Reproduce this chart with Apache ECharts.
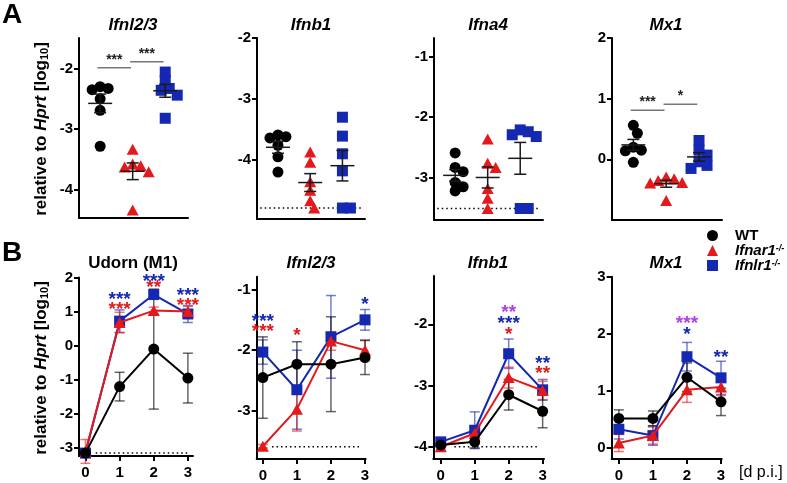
<!DOCTYPE html>
<html>
<head>
<meta charset="utf-8">
<script src="https://cdn.jsdelivr.net/npm/echarts@6/dist/echarts.min.js"></script>
<style>
  html, body { margin: 0; padding: 0; background: #fff; }
  #chart { width: 787px; height: 483px; }
</style>
</head>
<body>
<div id="chart"></div>
<script>
// ---------- colours / fonts ----------
var RED = '#e3191c', BLUE = '#1528b2', PURPLE = '#b23ee6', BLACK = '#000';
var FONT = 'Liberation Sans';

// ---------- panel A: single mice, log10 relative to Hprt ----------
var genotypes = ['WT', 'Ifnar1', 'Ifnlr1'];
var titlesA = ['Ifnl2/3', 'Ifnb1', 'Ifna4', 'Mx1'];

var ifnl23WT = [-2.3, -2.33, -2.35, -2.5, -2.69, -3.28];
var ifnl23Ifnar = [-3.33, -3.57, -3.6, -3.62, -3.7, -4.33];
var ifnl23Ifnlr = [-2.06, -2.2, -2.33, -2.36, -2.44, -2.82];
var ifnb1WT = [-3.59, -3.62, -3.64, -3.76, -3.95, -4.2];
var ifnb1Ifnar = [-3.87, -4.04, -4.36, -4.5, -4.67, -4.79];
var ifnb1Ifnlr = [-3.3, -3.61, -3.9, -4.18, -4.79, -4.79];
var ifna4WT = [-2.59, -2.83, -2.9, -3.08, -3.15, -3.22];
var ifna4Ifnar = [-2.36, -2.76, -2.83, -3.18, -3.34, -3.51];
var ifna4Ifnlr = [-2.21, -2.24, -2.29, -2.32, -3.51, -3.51];
var mx1WT = [0.56, 0.43, 0.2, 0.15, 0.14, -0.05];
var mx1Ifnar = [-0.29, -0.32, -0.35, -0.38, -0.39, -0.68];
var mx1Ifnlr = [0.31, 0.15, 0.07, -0.04, -0.1, -0.15];

var lodA = [null, -4.79, -3.51, null];           // detection limit
var yTicksA = [[-4, -3, -2], [-4, -3, -2], [-3, -2, -1], [0, 1, 2]];

// significance brackets: panel, group from, group to, level, stars
var sigA = [
  [0, 1, 2, -1.99, '***'],
  [0, 2, 3, -1.89, '***'],
  [3, 1, 2, 0.81, '***'],
  [3, 2, 3, 0.91, '*']
];

// ---------- panel B: time course, mean and SEM ----------
var days = [0, 1, 2, 3];
var titlesB = ['Udorn (M1)', 'Ifnl2/3', 'Ifnb1', 'Mx1'];

var udornWT = [-3.15, -1.2, -0.1, -0.95];
var udornWTErr = [0.05, 0.42, 1.76, 0.73];
var udornIfnar = [-3.1, 0.68, 1.03, 1.0];
var udornIfnarErr = [0.35, 0.3, 0.1, 0.15];
var udornIfnlr = [-3.15, 0.72, 1.5, 0.93];
var udornIfnlrErr = [0.05, 0.33, 0.12, 0.25];

var ifnl23BWT = [-2.45, -2.23, -2.23, -2.12];
var ifnl23BWTErr = [0.67, 0.37, 0.78, 0.28];
var ifnl23BIfnar = [-3.58, -2.97, -1.85, -2.0];
var ifnl23BIfnarErr = [0.03, 0.36, 0.15, 0.17];
var ifnl23BIfnlr = [-2.03, -2.65, -1.78, -1.5];
var ifnl23BIfnlrErr = [0.2, 0.65, 0.68, 0.17];

var ifnb1BWT = [-3.97, -3.92, -3.15, -3.42];
var ifnb1BWTErr = [0.05, 0.1, 0.25, 0.27];
var ifnb1BIfnar = [-4.0, -3.78, -2.87, -3.08];
var ifnb1BIfnarErr = [0.05, 0.12, 0.17, 0.15];
var ifnb1BIfnlr = [-3.92, -3.73, -2.48, -3.07];
var ifnb1BIfnlrErr = [0.05, 0.3, 0.24, 0.17];

var mx1BWT = [0.52, 0.52, 1.24, 0.81];
var mx1BWTErr = [0.15, 0.13, 0.25, 0.24];
var mx1BIfnar = [0.09, 0.22, 1.02, 1.07];
var mx1BIfnarErr = [0.15, 0.15, 0.22, 0.15];
var mx1BIfnlr = [0.33, 0.22, 1.6, 1.23];
var mx1BIfnlrErr = [0.17, 0.17, 0.25, 0.29];

var lodB = [-3.15, -3.59, -4.0, null];
var yTicksB = [[-3, -2, -1, 0, 1, 2], [-3, -2, -1], [-4, -3, -2], [0, 1, 2, 3]];

// stars: panel, day, level, stars, colour
var sigB = [
  [0, 1, 1.46, '***', BLUE], [0, 1, 1.16, '***', RED],
  [0, 2, 1.99, '***', BLUE], [0, 2, 1.81, '**', RED],
  [0, 3, 1.57, '***', BLUE], [0, 3, 1.29, '***', RED],
  [1, 0, -1.47, '***', BLUE], [1, 0, -1.63, '***', RED],
  [1, 1, -1.69, '*', RED], [1, 3, -1.18, '*', BLUE],
  [2, 2, -1.75, '**', PURPLE], [2, 2, -1.93, '***', BLUE], [2, 2, -2.11, '*', RED],
  [2, 3, -2.58, '**', BLUE], [2, 3, -2.74, '**', RED],
  [3, 2, 2.24, '***', PURPLE], [3, 2, 2.05, '*', BLUE],
  [3, 3, 1.65, '**', BLUE]
];

// ---------- layout ----------
var gridsA = [[79, 38, 109, 180], [257, 38, 108, 181], [434, 38, 109, 182], [612, 38, 110, 182]];
var yRangeA = [[-4.46, -1.5], [-4.97, -2], [-3.7, -0.69], [-1, 2]];
var gridsB = [[79, 277.5, 114, 178.5], [256.7, 276.7, 109, 182.3], [433.3, 276, 110.7, 183], [611.7, 276.7, 110, 182.3]];
var yRangeB = [[-3.235, 2], [-3.79, -0.79], [-4.2, -1.21], [-0.19, 3]];
var xRangeB = [[-0.19, 3.15], [-0.18, 3.02], [-0.22, 3.04], [-0.21, 3.02]];
var lodSpanB = [[0.3, 3.0], [0.27, 2.9], [0.4, 2.9]];

var dotsA = [
  [ifnl23WT, ifnl23Ifnar, ifnl23Ifnlr],
  [ifnb1WT, ifnb1Ifnar, ifnb1Ifnlr],
  [ifna4WT, ifna4Ifnar, ifna4Ifnlr],
  [mx1WT, mx1Ifnar, mx1Ifnlr]
];
var meansB = [
  [udornWT, udornIfnar, udornIfnlr],
  [ifnl23BWT, ifnl23BIfnar, ifnl23BIfnlr],
  [ifnb1BWT, ifnb1BIfnar, ifnb1BIfnlr],
  [mx1BWT, mx1BIfnar, mx1BIfnlr]
];
var errsB = [
  [udornWTErr, udornIfnarErr, udornIfnlrErr],
  [ifnl23BWTErr, ifnl23BIfnarErr, ifnl23BIfnlrErr],
  [ifnb1BWTErr, ifnb1BIfnarErr, ifnb1BIfnlrErr],
  [mx1BWTErr, mx1BIfnarErr, mx1BIfnlrErr]
];

var symbols = ['circle', 'triangle', 'rect'];
var symSizes = [11, [12, 11], 11];
var colors = [BLACK, RED, BLUE];
var errColors = ['rgba(0,0,0,0.6)', 'rgba(227,25,28,0.6)', 'rgba(21,40,178,0.6)'];

function stats(arr) {
  var n = arr.length, m = 0, s = 0;
  arr.forEach(function (v) { m += v; });
  m /= n;
  arr.forEach(function (v) { s += (v - m) * (v - m); });
  return [m, Math.sqrt(s / (n - 1)) / Math.sqrt(n)];
}

// simple beeswarm: spread overlapping dots sideways (pixels -> x units)
function swarm(values, center, pxY, pxX) {
  var placed = [];
  return values.map(function (v) {
    var steps = [0, 1, -1, 2, -2, 3, -3, 4, -4];
    for (var i = 0; i < steps.length; i++) {
      var dx = steps[i] * 4;
      var ok = placed.every(function (p) {
        return Math.hypot(p[0] - dx, (p[1] - v) * pxY) >= 8;
      });
      if (ok) { placed.push([dx, v]); return [center + dx / pxX, v]; }
    }
    placed.push([0, v]);
    return [center, v];
  });
}

var axisLineStyle = { color: BLACK, width: 2 };
var labelFont = { color: BLACK, fontFamily: FONT, fontWeight: 'bold', fontSize: 15 };

var grid = [], xAxis = [], yAxis = [], series = [];

// ---------- build panel A ----------
gridsA.forEach(function (g, i) {
  grid.push({ left: g[0], top: g[1], width: g[2], height: g[3] });
  xAxis.push({
    type: 'value', gridIndex: i, min: 0.35, max: 3.7,
    axisLine: { show: true, onZero: false, lineStyle: axisLineStyle },
    axisTick: { show: false }, axisLabel: { show: false }, splitLine: { show: false }
  });
  yAxis.push({
    type: 'value', gridIndex: i, min: yRangeA[i][0], max: yRangeA[i][1],
    axisLine: { show: true, onZero: false, lineStyle: axisLineStyle },
    axisTick: { show: true, length: 5, lineStyle: { width: 2, color: BLACK }, customValues: yTicksA[i] },
    axisLabel: Object.assign({ margin: 6, customValues: yTicksA[i] }, labelFont),
    splitLine: { show: false }
  });
  var pxY = g[3] / (yRangeA[i][1] - yRangeA[i][0]);
  var pxX = g[2] / (3.7 - 0.35);

  if (lodA[i] !== null) {
    series.push({
      type: 'line', xAxisIndex: i, yAxisIndex: i, silent: true, symbol: 'none', z: 1,
      data: [[0.45, lodA[i]], [3.6, lodA[i]]],
      lineStyle: { color: BLACK, width: 1.5, type: [1.5, 3] }
    });
  }
  dotsA[i].forEach(function (vals, k) {
    series.push({
      type: 'scatter', xAxisIndex: i, yAxisIndex: i, name: genotypes[k] + ' A',
      symbol: symbols[k], symbolSize: symSizes[k], z: 2,
      itemStyle: { color: colors[k], opacity: 1 },
      data: swarm(vals, k + 1, pxY, pxX)
    });
  });
  series.push({
    type: 'custom', xAxisIndex: i, yAxisIndex: i, z: 5, silent: true,
    data: dotsA[i].map(function (vals, k) { var st = stats(vals); return [k + 1, st[0], st[1]]; }),
    renderItem: function (params, api) {
      var x = api.value(0), m = api.value(1), s = api.value(2);
      var c = api.coord([x, m]), t = api.coord([x, m + s]), b = api.coord([x, m - s]);
      var st = { stroke: '#1a1a1a', lineWidth: 1.5 };
      return { type: 'group', children: [
        { type: 'line', shape: { x1: c[0] - 12, y1: c[1], x2: c[0] + 12, y2: c[1] }, style: st },
        { type: 'line', shape: { x1: c[0], y1: t[1], x2: c[0], y2: b[1] }, style: st },
        { type: 'line', shape: { x1: c[0] - 6, y1: t[1], x2: c[0] + 6, y2: t[1] }, style: st },
        { type: 'line', shape: { x1: c[0] - 6, y1: b[1], x2: c[0] + 6, y2: b[1] }, style: st }
      ] };
    }
  });
  var br = sigA.filter(function (s) { return s[0] === i; });
  if (br.length) {
    series.push({
      type: 'custom', xAxisIndex: i, yAxisIndex: i, z: 6, silent: true,
      data: br.map(function (s) { return [s[1], s[2], s[3], s[4]]; }),
      renderItem: function (params, api) {
        var a = api.coord([api.value(0) - 0.08, api.value(2)]);
        var b = api.coord([api.value(1) - 0.05, api.value(2)]);
        return { type: 'group', children: [
          { type: 'line', shape: { x1: a[0], y1: a[1], x2: b[0], y2: b[1] }, style: { stroke: '#777', lineWidth: 1.5 } },
          { type: 'text', x: (a[0] + b[0]) / 2, y: a[1] - 1, style: {
            text: br[params.dataIndex][4], fill: '#222', font: 'bold 14px ' + FONT,
            align: 'center', verticalAlign: 'bottom' } }
        ] };
      }
    });
  }
});

// ---------- build panel B ----------
gridsB.forEach(function (g, j) {
  var i = j + 4;
  grid.push({ left: g[0], top: g[1], width: g[2], height: g[3] });
  xAxis.push({
    type: 'value', gridIndex: i, min: xRangeB[j][0], max: xRangeB[j][1],
    axisLine: { show: true, onZero: false, lineStyle: axisLineStyle },
    axisTick: { show: true, length: 5, lineStyle: { width: 2, color: BLACK }, customValues: days },
    axisLabel: Object.assign({ margin: 9, customValues: days }, labelFont),
    splitLine: { show: false }
  });
  yAxis.push({
    type: 'value', gridIndex: i, min: yRangeB[j][0], max: yRangeB[j][1],
    axisLine: { show: true, onZero: false, lineStyle: axisLineStyle },
    axisTick: { show: true, length: 5, lineStyle: { width: 2, color: BLACK }, customValues: yTicksB[j] },
    axisLabel: Object.assign({ margin: 6, customValues: yTicksB[j] }, labelFont),
    splitLine: { show: false }
  });

  if (lodB[j] !== null) {
    series.push({
      type: 'line', xAxisIndex: i, yAxisIndex: i, silent: true, symbol: 'none', z: 1,
      data: [[lodSpanB[j][0], lodB[j]], [lodSpanB[j][1], lodB[j]]],
      lineStyle: { color: BLACK, width: 1.5, type: [1.5, 3] }
    });
  }
  // draw order: Ifnlr1, Ifnar1, WT on top
  [2, 1, 0].forEach(function (k) {
    var means = meansB[j][k], errs = errsB[j][k];
    series.push({
      type: 'custom', xAxisIndex: i, yAxisIndex: i, z: 2, silent: true,
      data: days.map(function (d, n) { return [d, means[n], errs[n]]; }),
      renderItem: function (params, api) {
        var x = api.value(0), m = api.value(1), e = api.value(2);
        var t = api.coord([x, m + e]), b = api.coord([x, m - e]);
        var st = { stroke: errColors[k], lineWidth: 1.5 };
        return { type: 'group', children: [
          { type: 'line', shape: { x1: t[0], y1: t[1], x2: b[0], y2: b[1] }, style: st },
          { type: 'line', shape: { x1: t[0] - 5, y1: t[1], x2: t[0] + 5, y2: t[1] }, style: st },
          { type: 'line', shape: { x1: b[0] - 5, y1: b[1], x2: b[0] + 5, y2: b[1] }, style: st }
        ] };
      }
    });
  });
  [2, 1, 0].forEach(function (k) {
    var means = meansB[j][k];
    series.push({
      type: 'line', xAxisIndex: i, yAxisIndex: i, name: genotypes[k], z: 3 + (2 - k),
      symbol: symbols[k], symbolSize: symSizes[k], showSymbol: true,
      itemStyle: { color: colors[k] },
      lineStyle: { color: colors[k], width: 2 },
      data: days.map(function (d, n) { return [d, means[n]]; })
    });
  });
  var st = sigB.filter(function (s) { return s[0] === j; });
  series.push({
    type: 'custom', xAxisIndex: i, yAxisIndex: i, z: 8, silent: true,
    data: st.map(function (s) { return [s[1], s[2]]; }),
    renderItem: function (params, api) {
      var c = api.coord([api.value(0), api.value(1)]);
      var s = st[params.dataIndex];
      return { type: 'text', x: c[0], y: c[1] + 4, style: {
        text: s[3], fill: s[4], font: 'bold 19px ' + FONT, align: 'center', verticalAlign: 'middle' } };
    }
  });
});

// ---------- texts ----------
var yLabelRich = {
  n: { fontFamily: FONT, fontWeight: 'bold', fontSize: 17, lineHeight: 20, verticalAlign: 'bottom' },
  i: { fontFamily: FONT, fontWeight: 'bold', fontStyle: 'italic', fontSize: 17, lineHeight: 20, verticalAlign: 'bottom' },
  s: { fontFamily: FONT, fontWeight: 'bold', fontSize: 11, lineHeight: 14, verticalAlign: 'bottom' }
};
function yLabel(cy) {
  return { type: 'text', x: 40, y: cy, rotation: Math.PI / 2, silent: true,
    style: { text: '{n|relative to }{i|Hprt}{n| [log}{s|10}{n|]}', rich: yLabelRich,
      align: 'center', verticalAlign: 'middle', fill: BLACK } };
}
function title(txt, cx, cy, italic) {
  return { type: 'text', x: cx, y: cy, silent: true,
    style: { text: txt, fill: BLACK, align: 'center', verticalAlign: 'middle',
      font: (italic ? 'italic ' : '') + 'bold 17px ' + FONT } };
}
var titleXA = [133, 311, 488, 666];
var graphic = [
  { type: 'text', x: 2, y: 15, style: { text: 'A', font: 'bold 28px ' + FONT, fill: BLACK, verticalAlign: 'middle' } },
  { type: 'text', x: 2, y: 253, style: { text: 'B', font: 'bold 28px ' + FONT, fill: BLACK, verticalAlign: 'middle' } },
  yLabel(129), yLabel(368),
  { type: 'text', x: 739, y: 473, style: { text: '[d p.i.]', font: '16px ' + FONT, fill: BLACK, verticalAlign: 'middle' } }
];
titlesA.forEach(function (t, i) { graphic.push(title(t, titleXA[i], 25, true)); });
titlesB.forEach(function (t, i) { graphic.push(title(t, titleXA[i], 263, i > 0)); });

var chart = echarts.init(document.getElementById('chart'));
chart.setOption({
  animation: false,
  backgroundColor: '#fff',
  grid: grid, xAxis: xAxis, yAxis: yAxis, series: series, graphic: graphic,
  legend: {
    orient: 'vertical', left: 702, top: 223, itemWidth: 11, itemHeight: 11, itemGap: 0,
    selectedMode: false,
    data: [{ name: 'WT', icon: 'circle' }, { name: 'Ifnar1', icon: 'triangle' }, { name: 'Ifnlr1', icon: 'rect' }],
    formatter: function (name) {
      return name === 'WT' ? '{b|WT}' : '{i|' + name + '}{s|-/-}';
    },
    textStyle: {
      padding: [0, 0, 0, 12],
      rich: {
        b: { fontFamily: FONT, fontWeight: 'bold', fontSize: 15, lineHeight: 12, color: BLACK },
        i: { fontFamily: FONT, fontWeight: 'bold', fontStyle: 'italic', fontSize: 15, lineHeight: 12, color: BLACK },
        s: { fontFamily: FONT, fontWeight: 'bold', fontStyle: 'italic', fontSize: 9, lineHeight: 12, verticalAlign: 'top', color: BLACK }
      }
    }
  }
});
</script>
</body>
</html>
